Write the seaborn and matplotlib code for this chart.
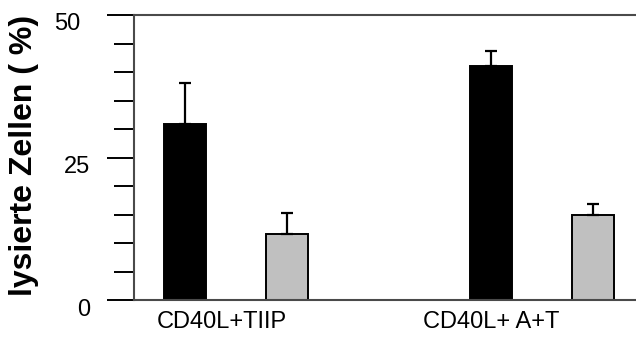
import matplotlib
matplotlib.use("Agg")
import matplotlib.pyplot as plt
import matplotlib.transforms as mtransforms
from matplotlib.ticker import MultipleLocator
import numpy as np
import pandas as pd
import seaborn as sns

# Data: lysis (%) per treatment, two series per treatment, upper error only
groups = ["CD40L+TIIP", "CD40L+ A+T"]
series = ["schwarz", "grau"]
black_values = [30.8, 41.1]
black_err = [7.2, 2.5]
gray_values = [11.6, 14.9]
gray_err = [3.6, 1.9]
y_ticks = [0, 25, 50]

sns.set_theme(style="white")
plt.rcParams["font.family"] = ["Liberation Sans", "DejaVu Sans"]
plt.rcParams.update({
    "text.color": "black",
    "axes.labelcolor": "black",
    "xtick.color": "black",
    "ytick.color": "black",
})

rows = []
for i, g in enumerate(groups):
    rows.append({"group": g, "series": series[0], "pos": 3 * i, "value": black_values[i], "err": black_err[i]})
    rows.append({"group": g, "series": series[1], "pos": 3 * i + 1, "value": gray_values[i], "err": gray_err[i]})
df = pd.DataFrame(rows)

fig = plt.figure(figsize=(6.36, 3.43), dpi=100)
ax = fig.add_axes([134 / 636, 43 / 343, 502 / 636, 285 / 343])

sns.barplot(
    data=df, x="pos", y="value", hue="series", dodge=False, native_scale=True,
    palette={"schwarz": "#000000", "grau": "#c0c0c0"}, width=0.41,
    errorbar=None, edgecolor="black", linewidth=1.4, legend=False, ax=ax,
)
ax.errorbar(
    df["pos"], df["value"], yerr=[np.zeros(len(df)), df["err"]], fmt="none",
    ecolor="black", elinewidth=1.6, capsize=4, capthick=1.6, zorder=3,
)

ax.set_xlim(-0.5, 4.42)
ax.set_ylim(0, 50)
ax.set_yticks(y_ticks)
ax.set_yticklabels([str(t) for t in y_ticks], fontsize=17)
ax.yaxis.set_minor_locator(MultipleLocator(5))
ax.tick_params(axis="y", which="major", direction="out", length=19.5, width=1.4,
               color="black", pad=12, left=True)
ax.tick_params(axis="y", which="minor", direction="out", length=14.5, width=1.4,
               color="black", left=True)

ax.set_xticks([0.36, 3.0])
ax.set_xticklabels(groups, fontsize=17)
ax.tick_params(axis="x", length=0, pad=8)
ax.set_xlabel("")

# tick labels sit slightly below their ticks; the top label is set further left
for lab in ax.get_yticklabels():
    dx = -10 / 100 if lab.get_text() == "50" else 0
    offset = mtransforms.ScaledTranslation(dx, -7 / 100, fig.dpi_scale_trans)
    lab.set_transform(lab.get_transform() + offset)

ax.set_ylabel("lysierte Zellen ( %)", fontsize=23, fontweight="bold")
ax.yaxis.set_label_coords(-0.189, 0.508)

for side in ["left", "top", "bottom"]:
    ax.spines[side].set_visible(True)
    ax.spines[side].set_color("#4a4a4a")
    ax.spines[side].set_linewidth(1.5)
ax.spines["right"].set_visible(False)

fig.savefig("out.png", dpi=100)
